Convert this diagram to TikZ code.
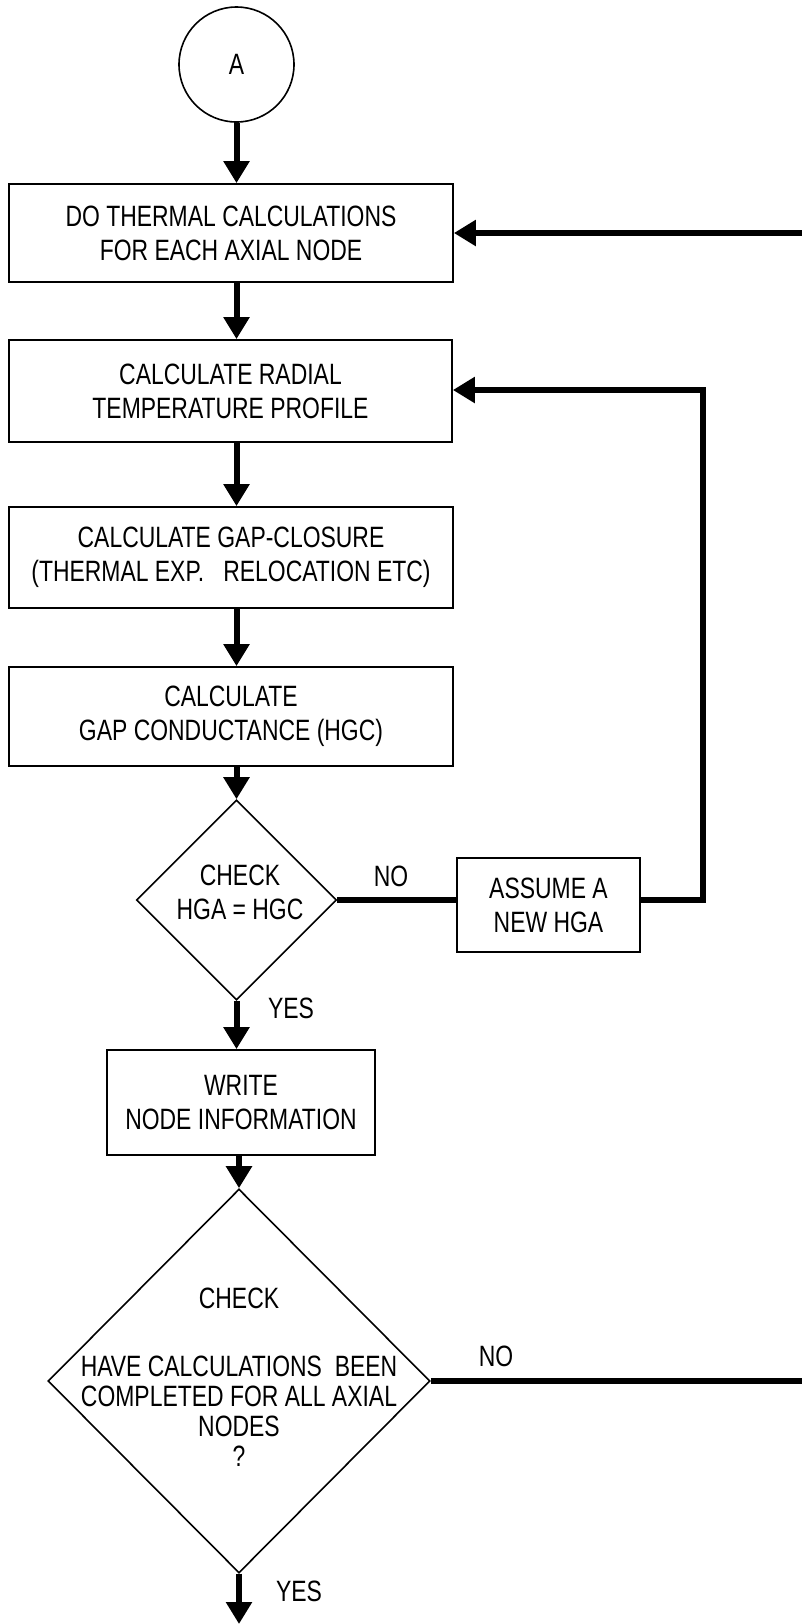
\documentclass[tikz,border=0pt]{standalone}
\usepackage{fontspec}
\setmainfont{Liberation Sans}[FakeStretch=0.78]
\usetikzlibrary{shapes.geometric,arrows.meta}
\begin{document}
\begin{tikzpicture}[x=0.5pt,y=-0.5pt,
  every node/.style={font=\fontsize{14.7}{17}\selectfont, align=center, inner sep=0pt},
  box/.style={draw, line width=0.9pt, rectangle},
  circ/.style={draw, line width=0.8pt, circle, minimum size=57.5pt},
  dia/.style={draw, line width=0.8pt, diamond, aspect=1},
  conn/.style={line width=3pt},
  arr/.style={conn, -{Triangle[width=12.5pt,length=11pt]}}]
\useasboundingbox (0,0) rectangle (802,1624);

\node[circ] (A) at (236.5,64.5) {A};
\node[box, minimum width=222pt, minimum height=49pt] (b1) at (231,233) {DO THERMAL CALCULATIONS\\FOR EACH AXIAL NODE};
\node[box, minimum width=221.5pt, minimum height=51pt] (b2) at (230.5,391) {CALCULATE RADIAL\\TEMPERATURE PROFILE};
\node[box, minimum width=222pt, minimum height=50.5pt] (b3) at (231,557.5) {CALCULATE GAP-CLOSURE\\(THERMAL EXP.~~~RELOCATION ETC)};
\node[box, minimum width=222pt, minimum height=49.5pt] (b4) at (231,716.5) {CALCULATE\\GAP CONDUCTANCE (HGC)};
\node[dia, minimum width=100pt, minimum height=100pt] (d1) at (236.5,900) {};
\node (d1t) at (240,892) {CHECK\\HGA = HGC};
\node[box, minimum width=91.5pt, minimum height=47pt] (b5) at (548.5,905) {ASSUME A\\NEW HGA};
\node[box, minimum width=134pt, minimum height=52.5pt] (b6) at (241,1102.5) {WRITE\\NODE INFORMATION};
\node[dia, minimum width=191pt, minimum height=192pt] (d2) at (239,1381) {};
\node[font=\fontsize{14.7}{15}\selectfont] (d2t) at (239,1377) {CHECK\\[19pt]HAVE CALCULATIONS~~BEEN\\COMPLETED FOR ALL AXIAL\\NODES\\?};

\node (no1) at (391,876) {NO};
\node (yes1) at (291,1008) {YES};
\node (no2) at (496,1356) {NO};
\node (yes2) at (299,1591) {YES};

\coordinate (c1) at (703,390);
\coordinate (r1) at (802,233);
\coordinate (r2) at (802,1381);
\coordinate (bot) at (239,1624);

\draw[arr] (A.south) -- (A.south |- b1.north);
\draw[arr] (b1.south -| A) -- (A |- b2.north);
\draw[arr] (b2.south -| A) -- (A |- b3.north);
\draw[arr] (b3.south -| A) -- (A |- b4.north);
\draw[arr] (b4.south -| d1) -- (d1.north);
\draw[arr] (d1.south) -- (d1.south |- b6.north);
\draw[arr] (b6.south -| d2) -- (d2.north);
\draw[arr] (d2.south) -- (bot);
\draw[conn] (d1.east) -- (d1.east -| b5.west);
\draw[arr] (b5.east |- d1.east) -| (c1) -- (c1 -| b2.east);
\draw[arr] (r1) -- (b1.east);
\draw[conn] (d2.east) -- (r2);
\end{tikzpicture}
\end{document}
